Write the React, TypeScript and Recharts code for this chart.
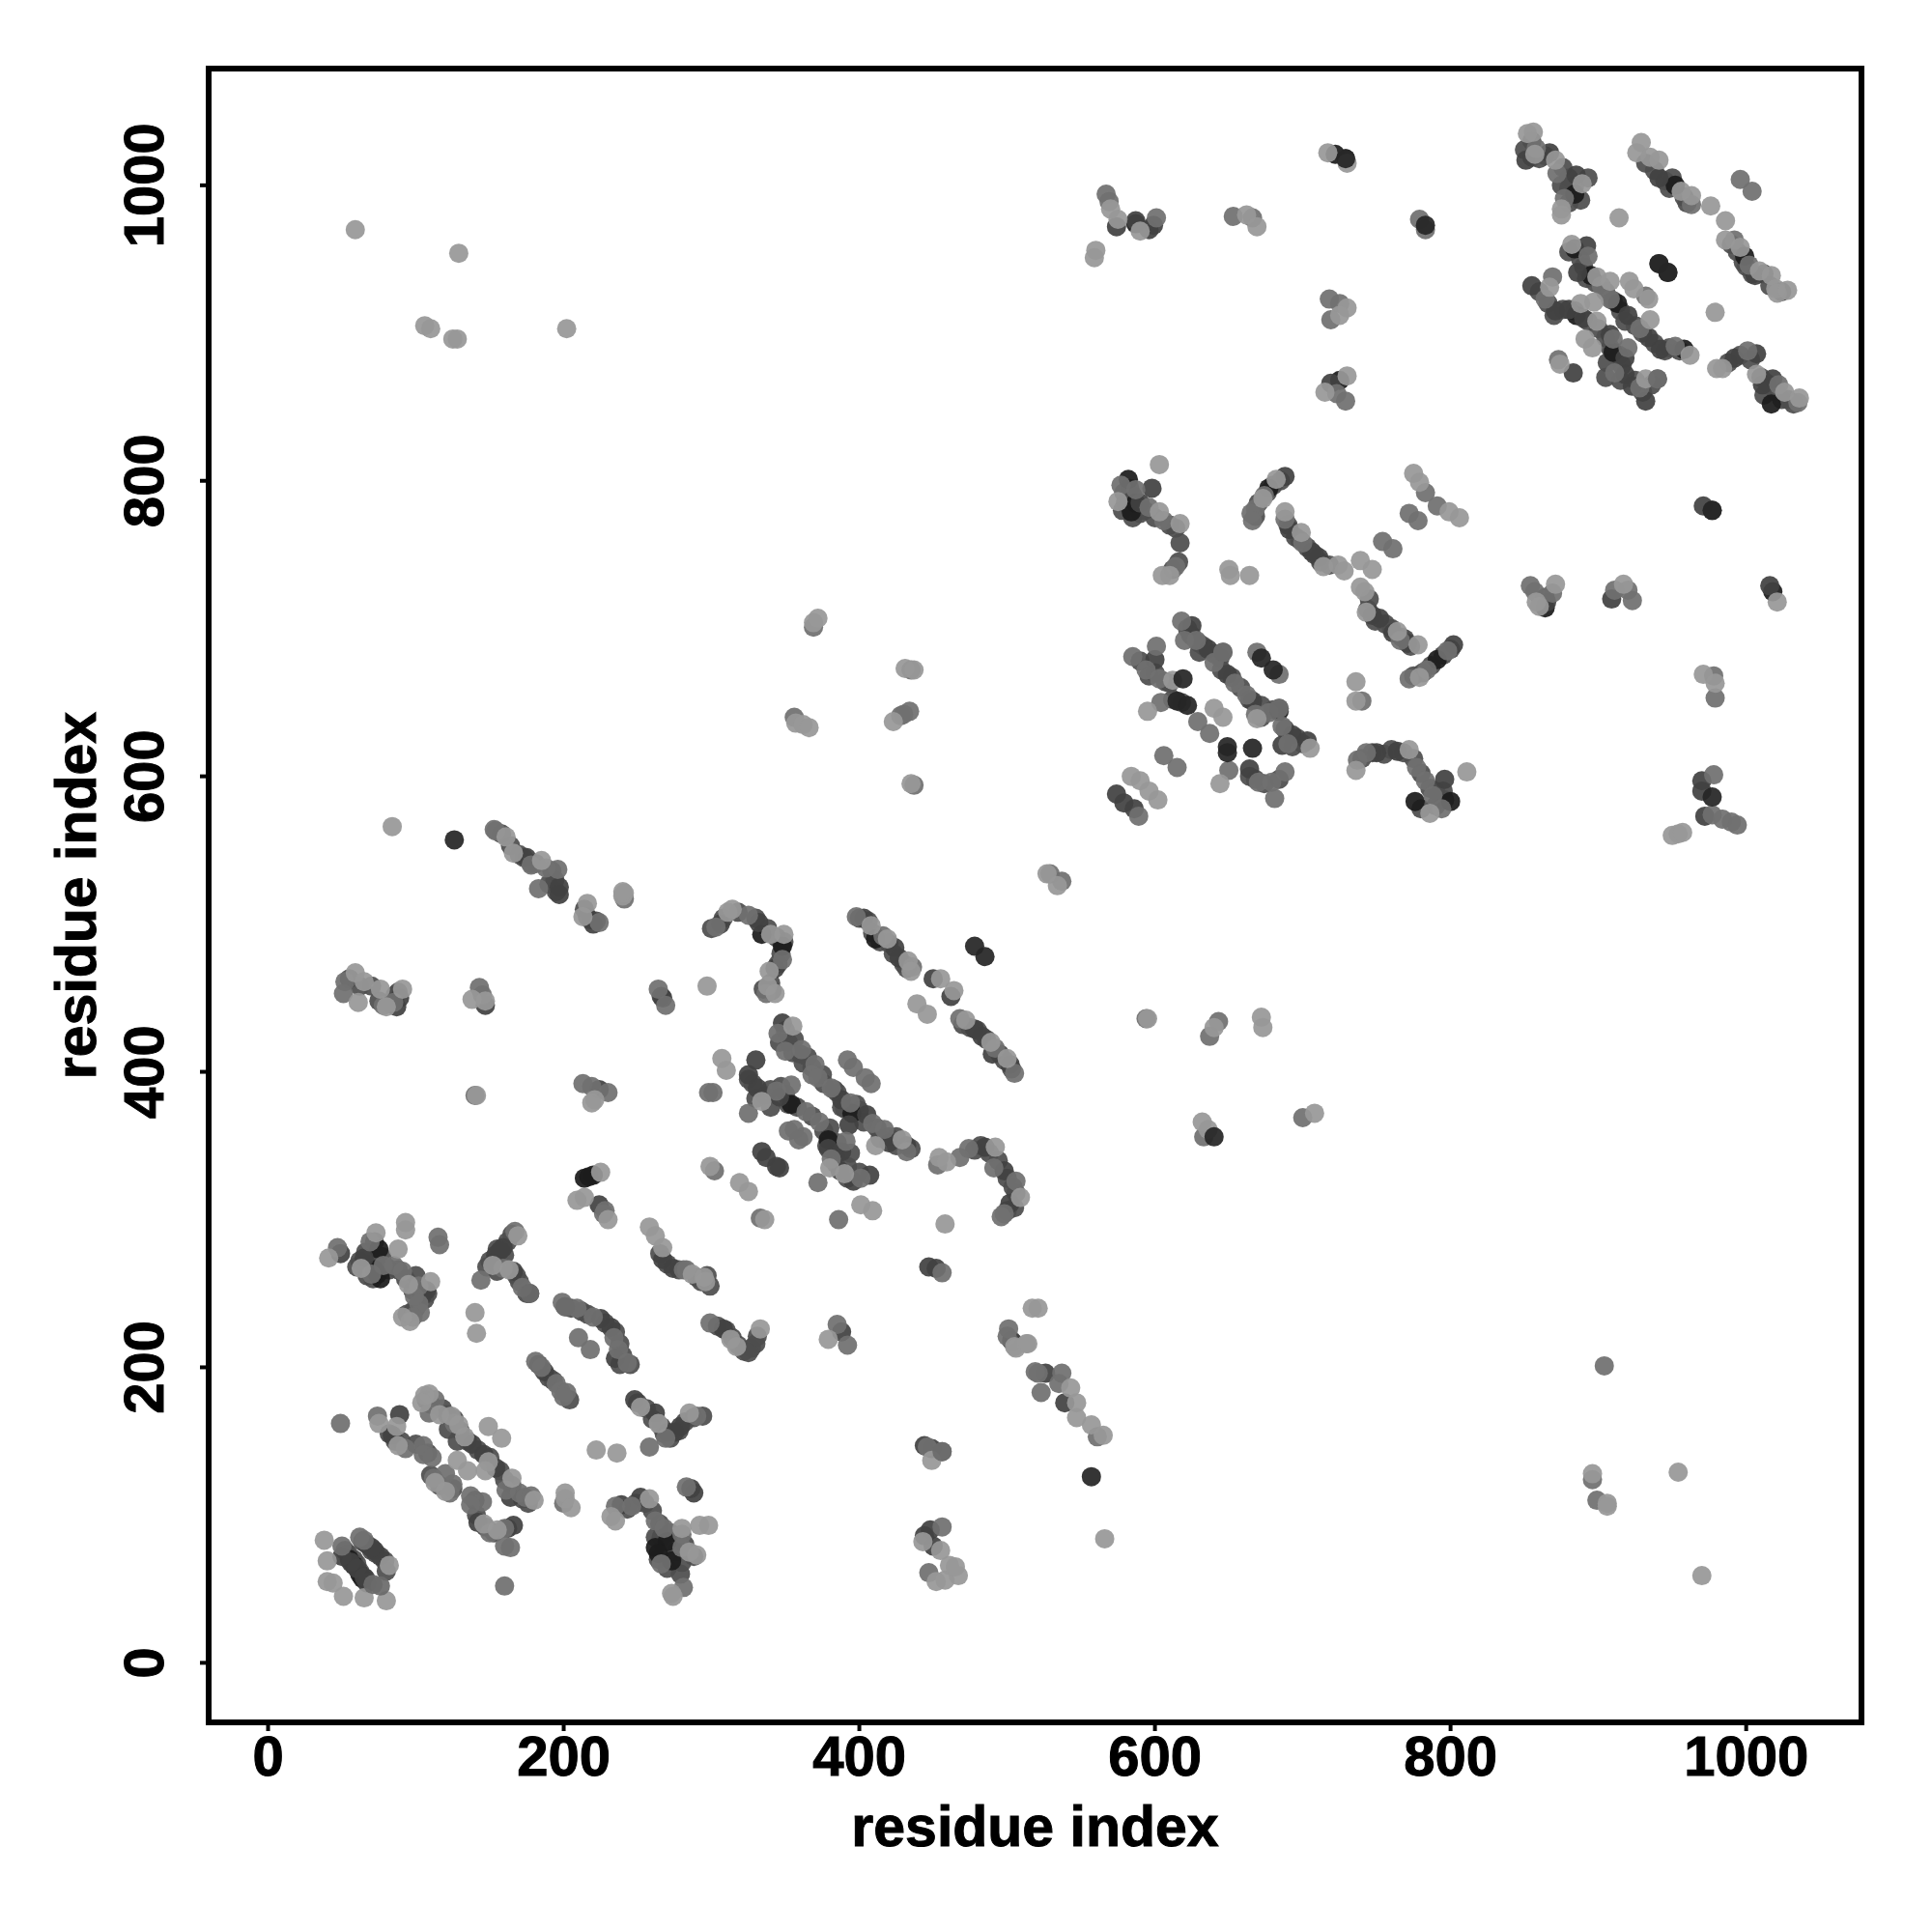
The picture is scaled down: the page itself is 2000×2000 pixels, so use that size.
import * as React from "react";
import { ReferenceArea, Scatter, ScatterChart, XAxis, YAxis } from "recharts";

type Pt = [number, number];

const axisTicks = [0, 200, 400, 600, 800, 1000];
const axisTitle = "residue index";

// contacts along the dense runs, they end up underneath everything else
const chainUnderPoints: Pt[] = [
  [54, 74], [58, 70], [62, 62], [66, 57], [52, 76], [60, 67], [64, 82], [70, 76], [73, 74], [79, 69], [80, 62],
  [66, 278], [68, 270], [72, 285], [77, 275], [80, 268], [82, 266], [88, 266], [93, 260], [98, 252], [105, 252], [108, 250],
  [100, 240], [106, 246], [98, 238], [94, 236], [62, 272], [60, 268], [67, 262], [71, 260], [100, 262],
  [150, 272], [155, 280], [162, 285], [165, 290], [168, 262], [170, 258], [175, 250], [155, 265], [160, 276], [148, 268],
  [107, 178], [110, 175], [118, 172], [121, 168], [126, 165], [130, 157], [135, 150], [142, 144], [150, 139], [157, 130],
  [160, 124], [165, 120], [172, 111], [176, 108], [82, 155], [86, 150], [90, 150], [100, 148], [108, 142], [110, 127],
  [116, 120], [125, 118], [140, 110], [147, 92], [153, 88], [141, 100], [128, 150], [122, 158],
  [205, 240], [212, 238], [216, 236], [228, 230], [235, 224], [238, 216], [240, 208], [245, 202], [238, 202],
  [183, 202], [190, 193], [193, 191], [204, 178], [265, 277], [270, 270], [278, 266], [290, 261], [293, 258], [299, 255], [297, 262],
  [250, 176], [256, 172], [260, 165], [266, 160], [268, 155], [272, 152], [278, 157], [282, 163], [288, 166], [294, 167],
  [243, 104], [249, 108], [255, 108], [260, 103], [265, 94], [262, 85], [268, 78], [264, 70], [270, 64], [276, 75],
  [282, 80], [272, 88], [266, 85], [280, 68], [288, 72], [279, 60],
  [304, 228], [310, 225], [314, 220], [318, 215], [322, 211], [327, 213], [330, 216], [325, 210], [331, 221],
  [158, 561], [164, 553], [170, 547], [173, 545], [181, 541], [192, 536], [194, 530], [190, 527], [178, 541], [195, 522],
  [214, 510], [218, 503], [222, 502], [55, 463], [62, 458], [70, 458], [83, 446], [86, 452], [88, 454], [75, 448],
  [400, 504], [406, 502], [409, 494], [414, 488], [420, 487], [423, 480], [430, 473], [432, 470],
  [470, 432], [475, 430], [480, 428], [486, 422], [495, 412], [498, 408], [503, 402],
  [350, 428], [352, 420], [346, 420], [355, 413], [365, 410], [362, 406], [368, 403], [376, 392], [385, 386], [390, 375],
  [400, 374], [403, 366], [412, 362], [420, 356], [425, 356], [435, 348], [425, 350], [414, 355], [398, 378], [388, 376],
  [383, 388], [375, 398], [356, 422], [360, 412], [325, 395], [328, 392], [336, 384], [340, 388], [350, 385], [352, 378],
  [358, 376], [368, 370], [376, 360], [380, 362], [378, 350], [384, 343], [392, 336], [384, 338], [392, 328], [400, 332],
  [394, 345], [385, 352], [330, 382], [340, 376], [347, 390],
  [300, 497], [308, 504], [318, 508], [330, 504], [338, 497], [344, 491], [347, 480], [349, 488], [345, 473], [340, 460],
  [341, 455], [335, 456], [478, 347], [482, 350], [488, 345], [494, 340], [500, 328], [504, 322], [506, 318], [505, 308], [500, 306],
  [579, 792], [583, 795], [580, 785], [585, 775], [590, 778], [593, 780], [600, 775], [610, 770], [614, 768], [617, 758],
  [616, 745], [612, 740], [578, 780], [585, 790], [668, 776], [670, 785], [676, 792], [680, 797], [685, 800],
  [690, 770], [695, 762], [698, 760], [703, 755], [708, 750], [712, 745], [718, 743],
  [744, 713], [749, 705], [756, 703], [760, 700], [767, 694], [773, 688], [769, 693], [745, 720],
  [775, 668], [787, 675], [795, 682], [800, 686], [781, 670],
  [622, 700], [624, 696], [630, 690], [633, 688], [640, 683], [644, 680], [645, 672], [652, 667], [658, 660], [664, 652],
  [672, 648], [680, 645], [688, 632], [696, 626], [700, 622], [672, 640], [693, 620], [630, 684], [625, 695],
  [590, 678], [596, 668], [600, 670], [607, 664], [610, 663], [612, 652], [618, 650], [664, 600], [668, 598], [674, 595], [684, 598],
  [740, 612], [747, 616], [755, 615], [760, 618], [768, 616], [775, 612], [780, 602], [786, 592], [790, 590], [796, 584],
  [780, 578], [790, 580], [795, 590],
  [855, 1030], [850, 1024], [855, 1019], [860, 1018], [864, 1020], [876, 1012], [880, 1005], [884, 1000], [888, 990], [880, 988],
  [880, 998], [875, 1000], [893, 1005], [932, 1015], [938, 1010], [945, 1003], [948, 998], [958, 992], [960, 988], [950, 1005],
  [990, 960], [994, 955], [998, 948], [1000, 945], [1004, 940], [1012, 940], [1016, 932], [1024, 928],
  [880, 955], [888, 950], [890, 945], [892, 937], [898, 934], [905, 928], [910, 922], [915, 915], [918, 908], [925, 905],
  [930, 900], [938, 893], [945, 888], [955, 888], [948, 890], [860, 928], [866, 920], [870, 912], [876, 916], [884, 915],
  [893, 908], [900, 903], [905, 897], [908, 890], [914, 885], [916, 878], [906, 880], [905, 870], [915, 868], [925, 868],
  [930, 860], [936, 865], [988, 880], [996, 885], [1003, 882], [1010, 870], [1014, 866], [1020, 860], [1024, 855], [1012, 858],
  [1028, 855], [1032, 852],
];

// contacts, grouped by how dark the dot is
const blackPoints: Pt[] = [
  [58, 66], [62, 60], [64, 57], [55, 70], [75, 280], [74, 263], [72, 266], [76, 260], [220, 330], [214, 328],
  [217, 329], [270, 82], [262, 78], [273, 69], [264, 74], [348, 485], [334, 493], [411, 490], [354, 378], [395, 372],
  [379, 354], [584, 779], [582, 801], [587, 785], [677, 795], [884, 957], [895, 939], [885, 912], [913, 920],
  [910, 887], [884, 994], [952, 1000], [999, 952], [958, 889], [722, 1021], [725, 868], [776, 583], [800, 583],
  [587, 974], [1018, 725], [864, 714], [1017, 852], [791, 679], [684, 644],
];

const darkPoints: Pt[] = [
  [50, 72], [56, 68], [60, 64], [67, 54], [65, 58], [67, 80], [72, 76], [76, 72], [70, 78], [49, 277],
  [65, 274], [107, 252], [104, 248], [159, 281], [154, 276], [153, 271], [157, 279], [166, 265], [177, 250], [224, 310],
  [225, 233], [232, 227], [235, 206], [187, 197], [248, 178], [262, 169], [270, 156], [279, 160], [275, 156], [239, 107],
  [252, 112], [288, 115], [286, 118], [138, 148], [146, 141], [154, 132], [164, 112], [89, 168], [84, 154], [142, 95],
  [166, 93], [162, 91], [267, 273], [274, 267], [197, 525], [197, 520], [175, 545], [216, 505], [220, 500], [89, 450],
  [87, 444], [147, 445], [267, 450], [266, 451], [224, 388], [306, 500], [332, 501], [343, 470], [424, 484], [427, 477],
  [403, 504], [450, 463], [462, 451], [478, 429], [483, 424], [490, 412], [502, 405], [348, 433], [388, 381], [405, 371],
  [432, 350], [420, 352], [393, 364], [330, 408], [325, 398], [331, 389], [346, 383], [379, 348], [388, 346], [387, 333],
  [396, 326], [407, 330], [334, 346], [337, 342], [344, 336], [346, 335], [485, 349], [498, 333], [502, 311], [447, 268],
  [452, 267], [308, 226], [388, 224], [503, 218], [504, 217], [526, 196], [539, 176], [444, 147], [449, 145], [448, 90],
  [444, 86], [450, 79], [574, 972], [596, 970], [599, 973], [587, 976], [729, 1018], [719, 866], [971, 783], [977, 780],
  [865, 718], [864, 721], [909, 720], [1016, 729], [970, 597], [970, 590], [972, 573], [598, 795], [590, 785], [688, 803],
  [691, 767], [706, 752], [711, 748], [747, 709], [752, 707], [761, 697], [771, 690], [802, 689], [625, 702], [636, 686],
  [649, 669], [666, 651], [693, 628], [703, 624], [686, 621], [600, 679], [664, 605], [574, 588], [579, 582], [586, 578],
  [750, 616], [764, 617], [796, 598], [851, 1017], [867, 1022], [885, 1007], [941, 1005], [1006, 939], [892, 959], [886, 941],
  [855, 932], [871, 915], [880, 916], [890, 910], [920, 912], [908, 899], [918, 883], [934, 897], [942, 889], [883, 873],
  [918, 872], [923, 864], [932, 854], [992, 883], [1007, 886], [1018, 869], [941, 947], [947, 941], [1011, 865],
];

const midPoints: Pt[] = [
  [50, 79], [62, 85], [65, 83], [47, 281], [115, 288], [116, 283], [69, 285], [70, 263], [78, 269], [85, 269],
  [91, 265], [102, 255], [102, 243], [103, 237], [98, 234], [99, 248], [167, 292], [144, 259], [159, 267], [172, 254],
  [228, 306], [227, 304], [201, 241], [199, 244], [209, 240], [220, 234], [234, 220], [237, 212], [243, 203], [210, 220],
  [218, 212], [181, 204], [185, 200], [195, 189], [198, 184], [202, 183], [200, 180], [269, 152], [290, 167], [258, 146],
  [235, 106], [246, 106], [262, 96], [268, 91], [266, 67], [280, 78], [283, 119], [281, 51], [280, 87], [113, 178],
  [109, 169], [126, 162], [161, 117], [170, 115], [174, 112], [178, 113], [74, 167], [93, 145], [105, 147], [105, 141],
  [111, 139], [112, 125], [120, 128], [125, 121], [123, 115], [137, 113], [145, 109], [137, 107], [150, 88], [160, 91],
  [160, 79], [200, 108], [281, 266], [283, 266], [153, 564], [154, 563], [178, 540], [188, 538], [196, 537], [183, 524],
  [224, 501], [241, 517], [52, 461], [51, 453], [78, 445], [85, 447], [143, 457], [145, 452], [264, 456], [269, 445],
  [140, 384], [213, 392], [219, 390], [230, 386], [529, 534], [537, 529], [303, 498], [325, 506], [348, 476], [337, 453],
  [398, 505], [416, 492], [436, 471], [468, 436], [492, 416], [505, 399], [345, 426], [350, 414], [361, 415], [370, 405],
  [368, 398], [372, 396], [381, 389], [394, 379], [409, 365], [417, 361], [432, 346], [392, 408], [396, 403], [404, 396],
  [408, 392], [301, 386], [298, 386], [325, 372], [344, 387], [354, 391], [364, 373], [373, 366], [391, 353], [381, 341],
  [401, 328], [372, 325], [356, 361], [362, 356], [352, 360], [359, 354], [302, 333], [333, 301], [386, 300], [453, 337],
  [468, 342], [474, 348], [491, 335], [506, 326], [498, 304], [496, 302], [456, 264], [299, 230], [385, 229], [392, 215],
  [501, 226], [500, 221], [519, 197], [521, 196], [537, 196], [523, 183], [535, 189], [561, 153], [456, 143], [446, 146],
  [456, 92], [447, 61], [567, 994], [569, 989], [601, 978], [653, 979], [666, 978], [779, 977], [783, 970], [718, 923],
  [725, 920], [719, 909], [723, 859], [729, 854], [854, 729], [857, 725], [869, 724], [911, 726], [920, 726], [923, 719],
  [978, 668], [979, 653], [978, 601], [977, 574], [984, 571], [990, 569], [994, 567], [594, 436], [643, 434], [637, 424],
  [633, 356], [700, 369], [369, 701], [435, 672], [434, 644], [428, 641], [430, 642], [356, 640], [437, 594], [904, 201],
  [896, 124], [899, 110], [577, 797], [587, 794], [596, 782], [606, 773], [614, 742], [674, 790], [668, 781], [665, 778],
  [666, 773], [688, 774], [700, 758], [754, 759], [761, 754], [766, 692], [772, 778], [778, 773], [783, 792], [791, 783],
  [798, 685], [784, 672], [772, 666], [740, 651], [618, 705], [620, 692], [628, 692], [646, 684], [640, 677], [654, 663],
  [662, 655], [668, 642], [677, 643], [684, 646], [686, 634], [690, 622], [669, 684], [684, 669], [585, 681], [601, 688],
  [594, 672], [603, 666], [604, 650], [629, 637], [637, 629], [650, 604], [670, 596], [679, 596], [688, 603], [681, 585],
  [606, 614], [615, 606], [589, 573], [737, 611], [743, 616], [777, 606], [783, 597], [788, 587], [794, 578], [858, 1025],
  [872, 1008], [877, 991], [963, 987], [996, 1004], [1004, 996], [992, 963], [1002, 946], [893, 952], [902, 932], [932, 925],
  [869, 938], [864, 923], [908, 923], [910, 896], [920, 890], [928, 903], [952, 891], [873, 882], [911, 873], [940, 869],
  [928, 863], [1001, 888], [1022, 865], [1035, 853], [49, 162], [160, 52], [164, 78],
];

const lightPoints: Pt[] = [
  [59, 970], [129, 954], [106, 905], [110, 903], [125, 896], [128, 896], [202, 903], [84, 566], [297, 458], [566, 84],
  [906, 106], [906, 108], [954, 129], [970, 59], [896, 128], [38, 83], [40, 69], [40, 55], [44, 54], [51, 45],
  [65, 44], [80, 42], [82, 66], [41, 274], [93, 298], [93, 293], [88, 280], [73, 291], [91, 234], [96, 231],
  [63, 267], [95, 256], [110, 258], [169, 289], [152, 269], [163, 266], [140, 237], [141, 223], [225, 332], [209, 313],
  [214, 315], [230, 300], [258, 295], [262, 289], [267, 281], [287, 263], [296, 258], [295, 261], [252, 173], [264, 162],
  [285, 169], [222, 144], [236, 142], [232, 99], [258, 111], [280, 91], [285, 75], [235, 96], [274, 45], [273, 47],
  [298, 93], [292, 93], [290, 73], [109, 182], [106, 181], [116, 168], [104, 176], [124, 167], [129, 161], [133, 153],
  [149, 136], [165, 125], [180, 110], [149, 160], [158, 152], [128, 137], [135, 130], [147, 130], [75, 162], [87, 160],
  [88, 147], [113, 122], [120, 116], [146, 94], [155, 90], [201, 115], [201, 111], [205, 105], [161, 559], [166, 548],
  [185, 543], [216, 514], [213, 505], [241, 521], [59, 467], [65, 461], [76, 456], [61, 447], [91, 456], [80, 444],
  [138, 449], [147, 448], [141, 384], [219, 379], [221, 381], [240, 519], [240, 522], [534, 526], [527, 534], [311, 508],
  [314, 510], [340, 493], [349, 493], [339, 468], [338, 458], [343, 453], [408, 499], [419, 490], [433, 475], [435, 468],
  [455, 463], [464, 455], [439, 446], [446, 439], [472, 435], [489, 420], [500, 409], [355, 431], [429, 354], [411, 350],
  [307, 409], [310, 401], [334, 380], [390, 331], [380, 335], [299, 336], [319, 325], [325, 319], [336, 300], [401, 310],
  [409, 306], [458, 297], [454, 342], [459, 339], [492, 349], [509, 315], [313, 219], [333, 226], [317, 214], [379, 219],
  [513, 216], [506, 213], [517, 240], [521, 240], [505, 214], [514, 216], [543, 186], [547, 176], [547, 166], [557, 161],
  [565, 154], [449, 137], [443, 82], [455, 76], [461, 66], [467, 59], [458, 56], [452, 55], [465, 65], [570, 984],
  [575, 977], [590, 969], [560, 956], [559, 951], [662, 980], [669, 972], [717, 1022], [730, 1015], [730, 917], [725, 912],
  [730, 871], [715, 860], [858, 718], [860, 715], [871, 730], [917, 730], [1021, 718], [971, 669], [979, 663], [950, 560],
  [954, 561], [957, 562], [595, 436], [640, 430], [672, 437], [673, 430], [632, 366], [636, 361], [708, 372], [372, 707],
  [369, 704], [431, 673], [437, 672], [423, 637], [357, 636], [362, 635], [366, 633], [435, 595], [603, 811], [575, 786],
  [603, 779], [617, 771], [605, 736], [610, 736], [650, 740], [651, 736], [664, 736], [682, 801], [673, 788], [688, 779],
  [699, 765], [714, 742], [724, 743], [728, 739], [739, 746], [747, 740], [739, 728], [742, 725], [743, 711], [764, 698],
  [778, 689], [775, 805], [779, 799], [799, 779], [806, 775], [736, 664], [736, 651], [779, 667], [705, 619], [669, 639],
  [612, 665], [595, 644], [640, 646], [646, 640], [644, 595], [584, 600], [590, 597], [596, 590], [602, 584], [772, 618],
  [736, 604], [786, 575], [811, 603], [856, 1036], [852, 1035], [857, 1021], [871, 1017], [889, 1001], [875, 984], [875, 980],
  [914, 978], [929, 1029], [926, 1022], [935, 1019], [941, 1017], [956, 996], [963, 993], [976, 986], [986, 976], [986, 963],
  [996, 958], [1009, 942], [1017, 939], [1020, 930], [1021, 927], [1028, 929], [882, 960], [899, 938], [908, 935], [921, 935],
  [924, 930], [934, 923], [979, 914], [867, 931], [888, 920], [897, 921], [899, 908], [935, 909], [962, 885], [891, 896],
  [896, 890], [874, 879], [932, 869], [980, 876], [984, 876], [1007, 872], [1026, 860], [1036, 856],
];

// dots that sit on top of their lighter neighbours
const topMidPoints: Pt[] = [
  [76, 52], [71, 53], [177, 250], [201, 241], [646, 684], [684, 646], [456, 143], [940, 869],
];

const topDarkPoints: Pt[] = [
  [126, 557], [557, 126], [478, 485], [485, 478], [672, 680], [680, 672], [619, 666], [615, 651], [622, 648], [649, 620],
  [649, 616], [666, 619], [640, 356], [783, 973], [977, 586], [977, 780], [729, 1018], [941, 947], [947, 941],
];

const toRows = (pts: Pt[]) => pts.map(([x, y]) => ({ x, y }));

const FONT = "'Liberation Sans', Arial, sans-serif";

const Dot = (props: any) => (
  <circle cx={props.cx} cy={props.cy} r={10} fill={props.fill} fillOpacity={0.93} />
);

const XTick = ({ x, y, payload }: any) => (
  <text
    x={x}
    y={y + 44}
    textAnchor="middle"
    fontFamily={FONT}
    fontWeight={700}
    fontSize={58}
    fill="#000"
    stroke="#000"
    strokeWidth={1}
  >
    {payload.value}
  </text>
);

const YTick = ({ x, y, payload }: any) => (
  <text
    x={x}
    y={y}
    dy={-36}
    textAnchor="middle"
    transform={`rotate(-90 ${x} ${y})`}
    fontFamily={FONT}
    fontWeight={700}
    fontSize={58}
    fill="#000"
    stroke="#000"
    strokeWidth={1}
  >
    {payload.value}
  </text>
);

const titleStyle = { fontFamily: FONT, fontWeight: 700, fontSize: 59, fill: "#000", stroke: "#000", strokeWidth: 1 };

export default function App() {
  return (
    <div style={{ position: "absolute", left: 0, top: 0, width: 2000, height: 2000, background: "#fff" }}>
      <ScatterChart width={2000} height={2000} margin={{ top: 71, right: 73, bottom: 0, left: 0 }}>
        <XAxis
          type="number"
          dataKey="x"
          domain={[-40.2, 1078]}
          ticks={axisTicks}
          allowDataOverflow
          height={217}
          axisLine={false}
          tickSize={9}
          tickLine={{ stroke: "#000", strokeWidth: 4 }}
          tick={<XTick />}
          label={{ value: axisTitle, position: "insideBottom", offset: 89, style: titleStyle }}
        />
        <YAxis
          type="number"
          dataKey="y"
          domain={[-40.3, 1079]}
          ticks={axisTicks}
          allowDataOverflow
          width={216}
          axisLine={false}
          tickSize={9}
          tickLine={{ stroke: "#000", strokeWidth: 4 }}
          tick={<YTick />}
          label={{
            value: axisTitle,
            angle: -90,
            position: "insideLeft",
            offset: 78,
            style: { ...titleStyle, textAnchor: "middle" },
          }}
        />
        <Scatter data={toRows(chainUnderPoints)} fill="#4e4e4e" shape={<Dot />} isAnimationActive={false} />
        <Scatter data={toRows(blackPoints)} fill="#1c1c1c" shape={<Dot />} isAnimationActive={false} />
        <Scatter data={toRows(darkPoints)} fill="#424242" shape={<Dot />} isAnimationActive={false} />
        <Scatter data={toRows(midPoints)} fill="#707070" shape={<Dot />} isAnimationActive={false} />
        <Scatter data={toRows(lightPoints)} fill="#989898" shape={<Dot />} isAnimationActive={false} />
        <Scatter data={toRows(topMidPoints)} fill="#6a6a6a" shape={<Dot />} isAnimationActive={false} />
        <Scatter data={toRows(topDarkPoints)} fill="#262626" shape={<Dot />} isAnimationActive={false} />
        <ReferenceArea
          x1={-40.2}
          x2={1078}
          y1={-40.3}
          y2={1079}
          fill="none"
          stroke="#000"
          strokeWidth={6}
          ifOverflow="visible"
        />
      </ScatterChart>
    </div>
  );
}
